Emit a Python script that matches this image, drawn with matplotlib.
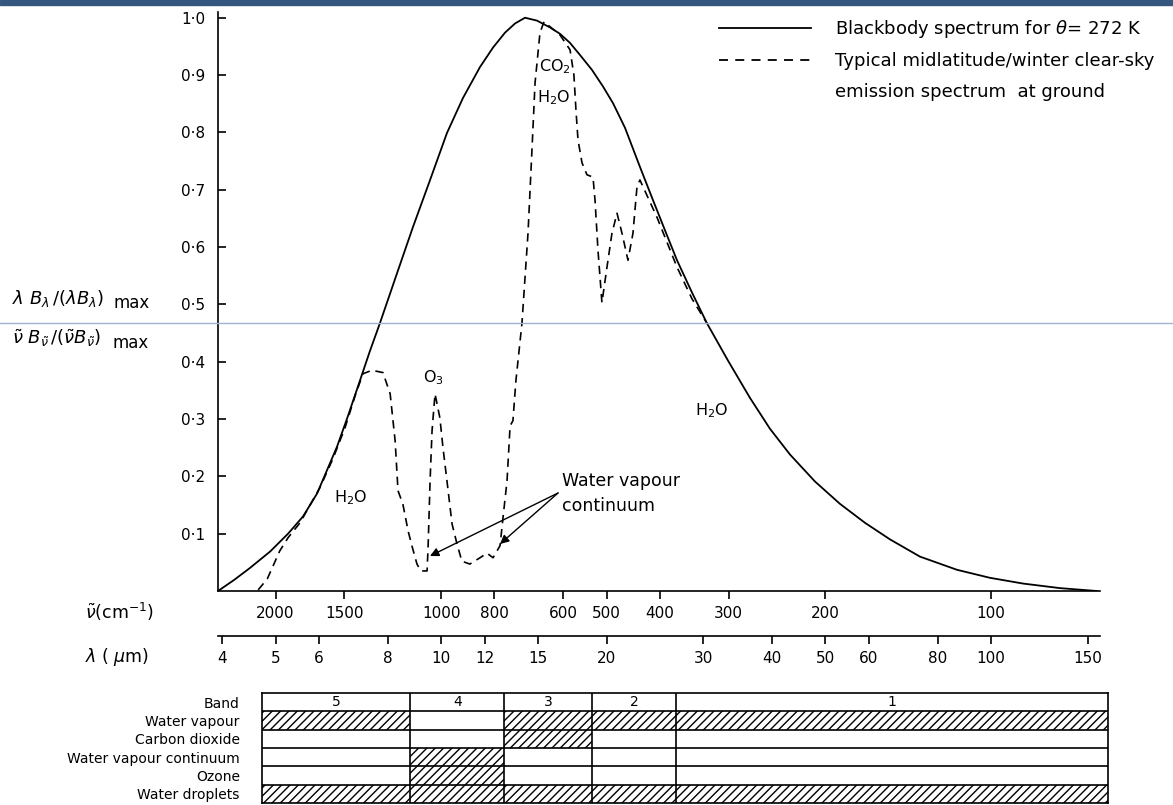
import matplotlib.pyplot as plt
from matplotlib.lines import Line2D
from matplotlib.patches import Rectangle
from matplotlib.ticker import NullLocator

# blackbody curve for 272 K (wavelength um, normalised)
bb_wl = [3.93, 4.20, 4.49, 4.89, 5.27, 5.61, 5.95, 6.47, 6.77, 7.12, 7.42, 7.74, 8.28, 8.89,
         9.55, 10.25, 10.96, 11.77, 12.43, 13.07, 13.63, 14.21, 14.94, 15.78, 16.45, 17.16,
         17.89, 18.81, 19.70, 20.54, 21.60, 22.99, 24.28, 25.54, 26.85, 28.58, 30.44, 33.24,
         36.44, 39.63, 43.10, 47.85, 53.13, 58.98, 65.51, 74.25, 86.7, 99.54, 114.3, 133.5,
         155.8]
bb_val = [0.0, 0.019, 0.040, 0.069, 0.100, 0.130, 0.170, 0.252, 0.305, 0.367, 0.418, 0.467,
          0.549, 0.635, 0.717, 0.799, 0.860, 0.914, 0.948, 0.974, 0.990, 1.0, 0.995, 0.983,
          0.972, 0.956, 0.935, 0.909, 0.880, 0.851, 0.808, 0.740, 0.682, 0.629, 0.577, 0.521,
          0.467, 0.402, 0.337, 0.283, 0.238, 0.191, 0.152, 0.119, 0.090, 0.060, 0.037, 0.023,
          0.013, 0.005, 0.0]

# clear-sky emission spectrum at ground (dashed)
em_wl = [4.65, 4.83, 5.09, 5.27, 5.54, 6.02, 6.36, 6.69, 6.98, 7.21, 7.49, 7.84, 8.08, 8.25,
         8.35, 8.52, 8.71, 8.85, 9.04, 9.19, 9.43, 9.47, 9.55, 9.63, 9.75, 9.95, 10.08, 10.25,
         10.47, 10.69, 10.91, 11.28, 11.77, 12.12, 12.43, 12.80, 12.96, 13.18, 13.35, 13.51,
         13.68, 14.03, 14.39, 14.63, 14.82, 15.13, 15.39, 16.45, 17.16, 17.44, 17.59, 17.74,
         18.04, 18.42, 18.89, 19.05, 19.29, 19.61, 20.03, 20.45, 20.89, 21.33, 21.87, 22.33,
         22.71, 22.99, 24.69, 26.85, 28.58, 30.44]
em_val = [0.002, 0.021, 0.070, 0.093, 0.119, 0.180, 0.231, 0.285, 0.341, 0.379, 0.385, 0.381,
          0.344, 0.262, 0.175, 0.152, 0.105, 0.079, 0.047, 0.035, 0.035, 0.075, 0.192, 0.280,
          0.344, 0.302, 0.250, 0.192, 0.117, 0.082, 0.052, 0.047, 0.058, 0.066, 0.058, 0.079,
          0.128, 0.192, 0.288, 0.297, 0.367, 0.467, 0.624, 0.769, 0.886, 0.974, 0.993, 0.970,
          0.944, 0.900, 0.839, 0.787, 0.747, 0.726, 0.722, 0.682, 0.594, 0.503, 0.565, 0.624,
          0.659, 0.624, 0.577, 0.624, 0.705, 0.717, 0.652, 0.565, 0.510, 0.467]

y_ticks = [0.1, 0.2, 0.3, 0.4, 0.5, 0.6, 0.7, 0.8, 0.9, 1.0]
nu_ticks = [2000, 1500, 1000, 800, 600, 500, 400, 300, 200, 100]
wl_ticks = [4, 5, 6, 8, 10, 12, 15, 20, 30, 40, 50, 60, 80, 100, 150]

# absorber table
bands = ["5", "4", "3", "2", "1"]
band_edges = [4.72, 8.78, 13.02, 18.81, 26.74, 163.2]
absorbers = ["Water vapour", "Carbon dioxide", "Water vapour continuum", "Ozone", "Water droplets"]
absorbing = [[1, 0, 1, 1, 1],
             [0, 0, 1, 0, 0],
             [0, 1, 0, 0, 0],
             [0, 1, 0, 0, 0],
             [1, 1, 1, 1, 1]]

plt.rcParams['axes.linewidth'] = 1.2
plt.rcParams['hatch.linewidth'] = 1.0

W, H = 1173, 805
fig = plt.figure(figsize=(W / 100, H / 100), dpi=100)


def box(l, t, r, b):
    return [l / W, 1 - b / H, (r - l) / W, (b - t) / H]


# scan decorations
fig.patches.append(Rectangle((0, 1 - 5 / H), 1, 5 / H, transform=fig.transFigure,
                             color="#34577f", zorder=0))
fig.add_artist(Line2D([0, 1], [1 - 323 / H] * 2, transform=fig.transFigure,
                      color="#9fb3cf", lw=1, zorder=5))

ax = fig.add_axes(box(218, 12, 1100, 591))
ax.plot(bb_wl, bb_val, color="black", lw=1.3)
ax.plot(em_wl, em_val, color="black", lw=1.2, ls=(0, (5, 3.5)))
ax.set_xscale("log")
ax.set_xlim(3.93, 157.8)
ax.set_ylim(0, 1.01)
ax.spines["top"].set_visible(False)
ax.spines["right"].set_visible(False)

ax.set_yticks(y_ticks, [("%.1f" % v).replace(".", "·") for v in y_ticks])
ax.tick_params(axis="y", direction="in", length=6, width=1.2, labelsize=11, pad=9)
ax.set_xticks([1e4 / n for n in nu_ticks], [str(n) for n in nu_ticks])
ax.xaxis.set_minor_locator(NullLocator())
ax.tick_params(axis="x", direction="out", length=6, width=1.2, labelsize=11, pad=5)

sec = ax.secondary_xaxis(-0.0777)
sec.set_xticks(wl_ticks, [str(w) for w in wl_ticks])
sec.xaxis.set_minor_locator(NullLocator())
sec.tick_params(axis="x", direction="out", length=6, width=1.2, labelsize=11, pad=5)
sec.spines["bottom"].set_linewidth(1.2)

# labels on the curves
ax.text(15.07, 0.915, "CO$_2$", fontsize=11.5, ha="left", va="center")
ax.text(14.94, 0.860, "H$_2$O", fontsize=11.5, ha="left", va="center")
ax.text(9.67, 0.373, "O$_3$", fontsize=11.5, ha="center", va="center")
ax.text(6.86, 0.163, "H$_2$O", fontsize=11.5, ha="center", va="center")
ax.text(31.08, 0.315, "H$_2$O", fontsize=11.5, ha="center", va="center")
ax.text(16.6, 0.17, "Water vapour\ncontinuum", fontsize=12.5, ha="left", va="center",
        linespacing=1.55)
arrow = dict(arrowstyle="-|>", color="black", lw=1, mutation_scale=13, shrinkA=0, shrinkB=0)
ax.annotate("", xy=(9.546, 0.061), xytext=(16.32, 0.171), arrowprops=arrow)
ax.annotate("", xy=(12.80, 0.082), xytext=(16.32, 0.171), arrowprops=arrow)

h1 = Line2D([], [], color="black", lw=1.3)
h2 = Line2D([], [], color="black", lw=1.3, ls=(0, (5, 4)))
h3 = Line2D([], [], color="none")
ax.legend([h1, h2, h3],
          ["Blackbody spectrum for $\\theta$= 272 K",
           "Typical midlatitude/winter clear-sky",
           "emission spectrum  at ground"],
          loc="upper left", bbox_to_anchor=(719 / W, 1 - 18 / H),
          bbox_transform=fig.transFigure, frameon=False, fontsize=13,
          handlelength=5.1, handletextpad=1.35, labelspacing=0.68,
          borderpad=0, borderaxespad=0)

# axis captions
fig.text(12 / W, 1 - 298 / H, r"$\lambda\ B_\lambda\,/(\lambda B_\lambda)$", fontsize=13,
         va="center")
fig.text(114 / W, 1 - 303 / H, "max", fontsize=12, va="center")
fig.text(12 / W, 1 - 338 / H,
         r"$\tilde{\nu}\ B_{\tilde{\nu}}\,/(\tilde{\nu} B_{\tilde{\nu}})$", fontsize=13,
         va="center")
fig.text(112 / W, 1 - 343 / H, "max", fontsize=12, va="center")
fig.text(85 / W, 1 - 612 / H, r"$\tilde{\nu}$(cm$^{-1}$)", fontsize=12.5, va="center")
fig.text(85 / W, 1 - 657 / H, r"$\lambda$ ( $\mu$m)", fontsize=12.5, va="center")

# absorber table
axt = fig.add_axes(box(262, 693, 1108, 803))
axt.set_xscale("log")
axt.set_xlim(band_edges[0], band_edges[-1])
axt.set_ylim(len(absorbers) + 1, 0)
for i, row in enumerate(absorbing):
    for j, flag in enumerate(row):
        if flag:
            axt.bar(band_edges[j], 1, width=band_edges[j + 1] - band_edges[j],
                    bottom=i + 1, align="edge", fill=False, hatch="////",
                    edgecolor="black", lw=0)
for j, b in enumerate(bands):
    xm = (band_edges[j] * band_edges[j + 1]) ** 0.5
    axt.text(xm, 0.5, b, ha="center", va="center", fontsize=10)
axt.hlines(range(1, len(absorbers) + 1), band_edges[0], band_edges[-1], color="black", lw=1.2)
axt.vlines(band_edges[1:-1], 0, len(absorbers) + 1, color="black", lw=1.2)
axt.set_yticks([k + 0.5 for k in range(len(absorbers) + 1)], ["Band"] + absorbers)
axt.tick_params(axis="y", length=0, labelsize=10, pad=16)
axt.set_xticks([])
axt.xaxis.set_minor_locator(NullLocator())

fig.savefig("out.png", dpi=100)
